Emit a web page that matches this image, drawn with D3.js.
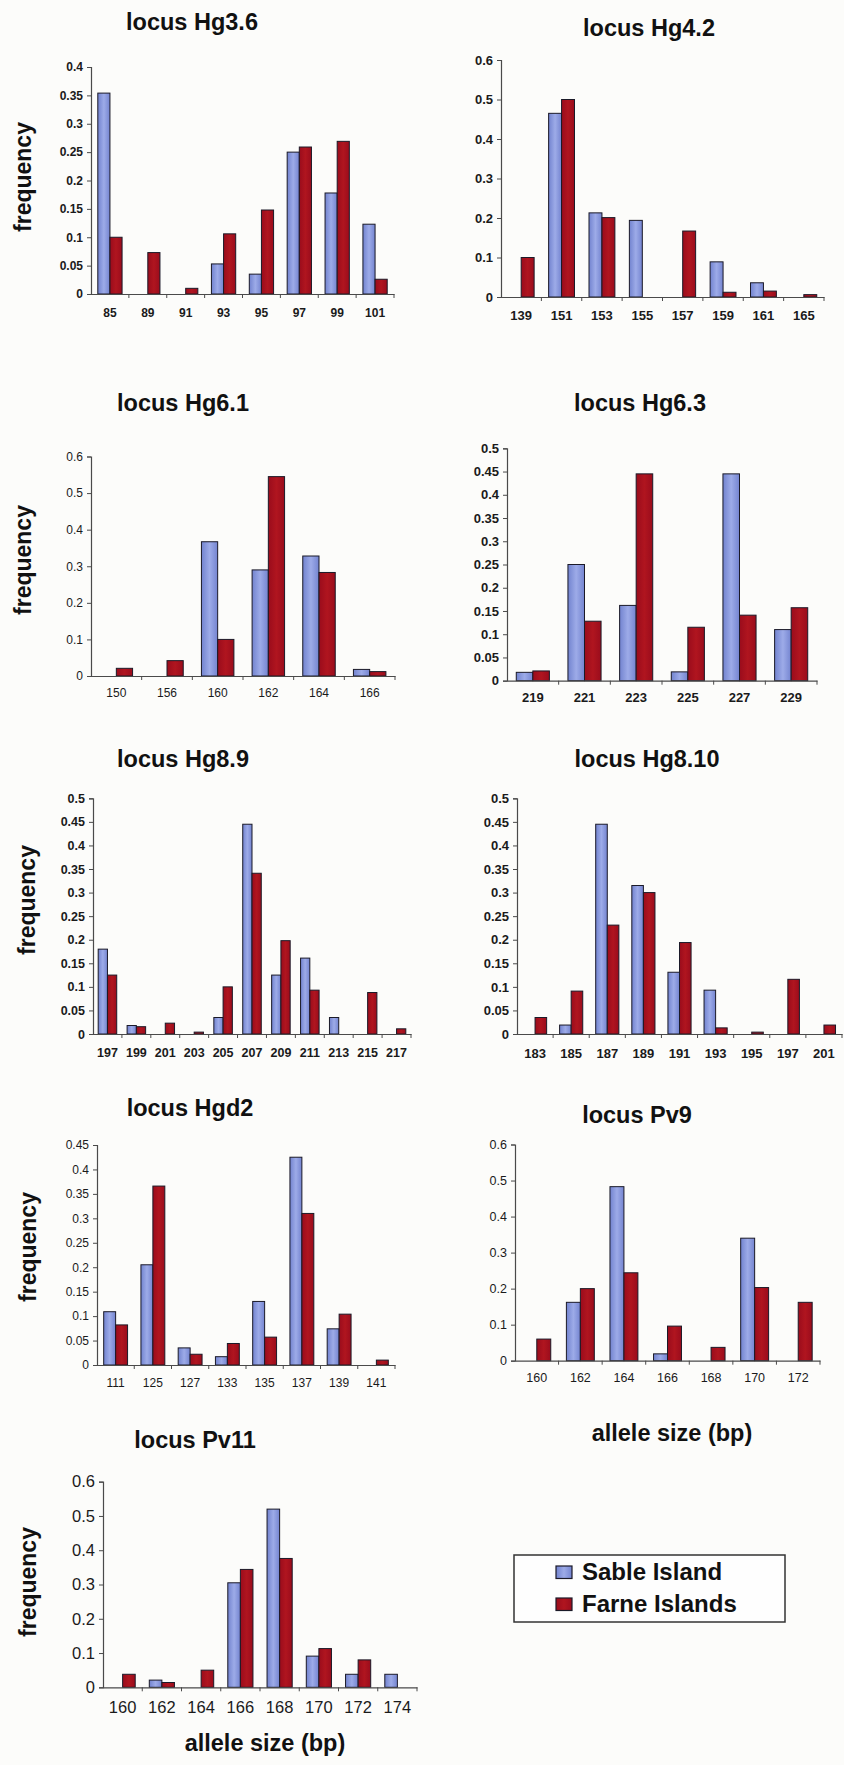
<!DOCTYPE html>
<html>
<head>
<meta charset="utf-8">
<script src="https://cdn.jsdelivr.net/npm/d3@7"></script>
<style>
  html, body { margin: 0; padding: 0; background: #fcfcfa; }
  svg { display: block; font-family: "Liberation Sans", Arial, Helvetica, sans-serif; }
</style>
</head>
<body>
<svg id="fig" width="844" height="1765"></svg>
<script>
// Allele frequencies per microsatellite locus, Sable Island vs Farne Islands
const hg36Alleles = ["85", "89", "91", "93", "95", "97", "99", "101"];
const hg36Sable   = [0.354, 0, 0, 0.053, 0.035, 0.25, 0.178, 0.123];
const hg36Farne   = [0.1, 0.073, 0.01, 0.106, 0.148, 0.259, 0.269, 0.026];
const hg36Ticks   = [0, 0.05, 0.1, 0.15, 0.2, 0.25, 0.3, 0.35, 0.4];

const hg42Alleles = ["139", "151", "153", "155", "157", "159", "161", "165"];
const hg42Sable   = [0, 0.465, 0.213, 0.194, 0, 0.089, 0.036, 0];
const hg42Farne   = [0.1, 0.5, 0.201, 0, 0.167, 0.012, 0.015, 0.006];
const hg42Ticks   = [0, 0.1, 0.2, 0.3, 0.4, 0.5, 0.6];

const hg61Alleles = ["150", "156", "160", "162", "164", "166"];
const hg61Sable   = [0, 0, 0.367, 0.29, 0.328, 0.018];
const hg61Farne   = [0.021, 0.042, 0.1, 0.545, 0.283, 0.012];
const hg61Ticks   = [0, 0.1, 0.2, 0.3, 0.4, 0.5, 0.6];

const hg63Alleles = ["219", "221", "223", "225", "227", "229"];
const hg63Sable   = [0.018, 0.25, 0.162, 0.019, 0.445, 0.11];
const hg63Farne   = [0.021, 0.128, 0.445, 0.115, 0.141, 0.157];
const hg63Ticks   = [0, 0.05, 0.1, 0.15, 0.2, 0.25, 0.3, 0.35, 0.4, 0.45, 0.5];

const hg89Alleles = ["197", "199", "201", "203", "205", "207", "209", "211", "213", "215", "217"];
const hg89Sable   = [0.18, 0.018, 0, 0, 0.035, 0.445, 0.125, 0.161, 0.035, 0, 0];
const hg89Farne   = [0.125, 0.0155, 0.023, 0.004, 0.1, 0.341, 0.198, 0.093, 0, 0.088, 0.011];
const hg89Ticks   = [0, 0.05, 0.1, 0.15, 0.2, 0.25, 0.3, 0.35, 0.4, 0.45, 0.5];

const hg810Alleles = ["183", "185", "187", "189", "191", "193", "195", "197", "201"];
const hg810Sable   = [0, 0.019, 0.445, 0.315, 0.131, 0.093, 0, 0, 0];
const hg810Farne   = [0.035, 0.091, 0.231, 0.3, 0.194, 0.013, 0.004, 0.116, 0.019];
const hg810Ticks   = [0, 0.05, 0.1, 0.15, 0.2, 0.25, 0.3, 0.35, 0.4, 0.45, 0.5];

const hgd2Alleles = ["111", "125", "127", "133", "135", "137", "139", "141"];
const hgd2Sable   = [0.109, 0.205, 0.035, 0.017, 0.13, 0.425, 0.074, 0];
const hgd2Farne   = [0.082, 0.366, 0.022, 0.044, 0.057, 0.31, 0.104, 0.01];
const hgd2Ticks   = [0, 0.05, 0.1, 0.15, 0.2, 0.25, 0.3, 0.35, 0.4, 0.45];

const pv9Alleles = ["160", "162", "164", "166", "168", "170", "172"];
const pv9Sable   = [0, 0.162, 0.483, 0.019, 0, 0.34, 0];
const pv9Farne   = [0.06, 0.2, 0.244, 0.096, 0.037, 0.203, 0.162];
const pv9Ticks   = [0, 0.1, 0.2, 0.3, 0.4, 0.5, 0.6];

const pv11Alleles = ["160", "162", "164", "166", "168", "170", "172", "174"];
const pv11Sable   = [0, 0.021, 0, 0.305, 0.52, 0.091, 0.038, 0.038];
const pv11Farne   = [0.038, 0.014, 0.05, 0.344, 0.376, 0.113, 0.08, 0];
const pv11Ticks   = [0, 0.1, 0.2, 0.3, 0.4, 0.5, 0.6];

const seriesNames = ["Sable Island", "Farne Islands"];

// Panel layout: plot box in page pixels, title placement and text styling
const panels = [
  { title: "locus Hg3.6", alleles: hg36Alleles, sable: hg36Sable, farne: hg36Farne, ticks: hg36Ticks,
    left: 91, right: 394, top: 67, bottom: 294, titleX: 192, titleY: 30,
    tickSize: 12, tickWeight: "bold", labelOff: 19, freqX: 31, freqY: 177 },
  { title: "locus Hg4.2", alleles: hg42Alleles, sable: hg42Sable, farne: hg42Farne, ticks: hg42Ticks,
    left: 501, right: 824, top: 60, bottom: 297, titleX: 649, titleY: 36,
    tickSize: 13, tickWeight: "bold", labelOff: 18 },
  { title: "locus Hg6.1", alleles: hg61Alleles, sable: hg61Sable, farne: hg61Farne, ticks: hg61Ticks,
    left: 91, right: 395, top: 456.5, bottom: 676, titleX: 183, titleY: 411,
    tickSize: 12, tickWeight: "normal", labelOff: 17, freqX: 31, freqY: 560 },
  { title: "locus Hg6.3", alleles: hg63Alleles, sable: hg63Sable, farne: hg63Farne, ticks: hg63Ticks,
    left: 507, right: 817, top: 448.3, bottom: 680.7, titleX: 640, titleY: 411,
    tickSize: 13, tickWeight: "bold", labelOff: 17 },
  { title: "locus Hg8.9", alleles: hg89Alleles, sable: hg89Sable, farne: hg89Farne, ticks: hg89Ticks,
    left: 93, right: 411, top: 798.3, bottom: 1034, titleX: 183, titleY: 767,
    tickSize: 12.5, tickWeight: "bold", labelOff: 19, freqX: 35, freqY: 900 },
  { title: "locus Hg8.10", alleles: hg810Alleles, sable: hg810Sable, farne: hg810Farne, ticks: hg810Ticks,
    left: 517, right: 842, top: 798.3, bottom: 1034, titleX: 647, titleY: 767,
    tickSize: 13, tickWeight: "bold", labelOff: 19 },
  { title: "locus Hgd2", alleles: hgd2Alleles, sable: hgd2Sable, farne: hgd2Farne, ticks: hgd2Ticks,
    left: 97, right: 395, top: 1145, bottom: 1365, titleX: 190, titleY: 1116,
    tickSize: 12, tickWeight: "normal", labelOff: 18, freqX: 36, freqY: 1247 },
  { title: "locus Pv9", alleles: pv9Alleles, sable: pv9Sable, farne: pv9Farne, ticks: pv9Ticks,
    left: 515, right: 820, top: 1144.5, bottom: 1360.7, titleX: 637, titleY: 1123,
    tickSize: 12.5, tickWeight: "normal", labelOff: 17,
    xTitleX: 672, xTitleY: 1441 },
  { title: "locus Pv11", alleles: pv11Alleles, sable: pv11Sable, farne: pv11Farne, ticks: pv11Ticks,
    left: 103, right: 417, top: 1481.7, bottom: 1687.3, titleX: 195, titleY: 1448,
    tickSize: 16.5, tickWeight: "normal", labelOff: 20, freqX: 36, freqY: 1582,
    xTitleX: 265, xTitleY: 1751 }
];

const svg = d3.select("#fig");
const ink = "#111";
const axisInk = "#4a4a4a";
const sableFill = "url(#sableGrad)";
const farneFill = "url(#farneGrad)";

// Slight horizontal shading on the bars
const defs = svg.append("defs");
const sg = defs.append("linearGradient").attr("id", "sableGrad").attr("x1", 0).attr("x2", 1).attr("y1", 0).attr("y2", 0);
sg.append("stop").attr("offset", "0%").attr("stop-color", "#7283cf");
sg.append("stop").attr("offset", "50%").attr("stop-color", "#9dabe8");
sg.append("stop").attr("offset", "100%").attr("stop-color", "#7484d0");
const fg = defs.append("linearGradient").attr("id", "farneGrad").attr("x1", 0).attr("x2", 1).attr("y1", 0).attr("y2", 0);
fg.append("stop").attr("offset", "0%").attr("stop-color", "#9a0c1c");
fg.append("stop").attr("offset", "50%").attr("stop-color", "#b0151f");
fg.append("stop").attr("offset", "100%").attr("stop-color", "#9a0c1c");

svg.append("rect").attr("width", 844).attr("height", 1765).attr("fill", "#fcfcfa");

const fmt = d => String(+d.toFixed(2));

panels.forEach(p => {
  const g = svg.append("g");
  const yMax = p.ticks[p.ticks.length - 1];

  const x = d3.scaleBand().domain(p.alleles).range([p.left, p.right]);
  const inner = d3.scaleBand().domain(seriesNames).range([0, x.bandwidth()]).paddingOuter(0.56);
  const y = d3.scaleLinear().domain([0, yMax]).range([p.bottom, p.top]);

  // title
  g.append("text")
    .attr("x", p.titleX).attr("y", p.titleY)
    .attr("text-anchor", "middle")
    .attr("font-size", 23.5).attr("font-weight", "bold").attr("fill", ink)
    .text(p.title);

  // bars
  const rows = p.alleles.map((a, i) => ({ allele: a, values: [p.sable[i], p.farne[i]] }));
  const grp = g.selectAll("g.allele").data(rows).join("g")
    .attr("transform", d => `translate(${x(d.allele)},0)`);
  grp.selectAll("rect")
    .data(d => d.values.map((v, k) => ({ name: seriesNames[k], value: v })).filter(d => d.value > 0))
    .join("rect")
    .attr("x", d => inner(d.name))
    .attr("width", inner.bandwidth())
    .attr("y", d => y(d.value))
    .attr("height", d => y(0) - y(d.value))
    .attr("fill", d => d.name === seriesNames[0] ? sableFill : farneFill)
    .attr("stroke", "#1b1a28").attr("stroke-width", 1);

  // y axis
  const ya = g.append("g")
    .attr("transform", `translate(${p.left},0)`)
    .call(d3.axisLeft(y).tickValues(p.ticks).tickFormat(fmt).tickSize(4).tickPadding(4));
  ya.select(".domain").attr("stroke", axisInk).attr("stroke-width", 1.2);
  ya.selectAll(".tick line").attr("stroke", axisInk);
  ya.selectAll("text")
    .attr("font-size", p.tickSize).attr("font-weight", p.tickWeight)
    .attr("font-family", "Liberation Sans, Arial, sans-serif").attr("fill", "#1a1a1a");

  // x axis: category labels centred in bands, tick marks on band edges
  const xa = g.append("g")
    .attr("transform", `translate(0,${p.bottom})`)
    .call(d3.axisBottom(x).tickSize(0).tickSizeOuter(0));
  xa.select(".domain").attr("stroke", axisInk).attr("stroke-width", 1.2);
  xa.selectAll("text")
    .attr("y", p.labelOff).attr("dy", "0.35em")
    .attr("font-size", p.tickSize).attr("font-weight", p.tickWeight)
    .attr("font-family", "Liberation Sans, Arial, sans-serif").attr("fill", "#1a1a1a");
  const edges = p.alleles.map(a => x(a)).slice(1).concat([x.range()[1]]);
  xa.selectAll("line.edge").data(edges).join("line")
    .attr("class", "edge")
    .attr("x1", d => d).attr("x2", d => d)
    .attr("y1", 0).attr("y2", 4)
    .attr("stroke", axisInk);

  if (p.freqX !== undefined) {
    g.append("text")
      .attr("transform", `translate(${p.freqX},${p.freqY}) rotate(-90)`)
      .attr("text-anchor", "middle")
      .attr("font-size", 23).attr("font-weight", "bold").attr("fill", ink)
      .text("frequency");
  }
  if (p.xTitleX !== undefined) {
    g.append("text")
      .attr("x", p.xTitleX).attr("y", p.xTitleY)
      .attr("text-anchor", "middle")
      .attr("font-size", 23.5).attr("font-weight", "bold").attr("fill", ink)
      .text("allele size (bp)");
  }
});

// legend
const legend = svg.append("g");
legend.append("rect")
  .attr("x", 514).attr("y", 1555).attr("width", 271).attr("height", 67)
  .attr("fill", "#fefefe").attr("stroke", "#333").attr("stroke-width", 1.5);
const legendRows = legend.selectAll("g.item").data(seriesNames).join("g")
  .attr("class", "item")
  .attr("transform", (d, i) => `translate(556,${1566 + i * 32})`);
legendRows.append("rect")
  .attr("width", 16).attr("height", 12.5)
  .attr("fill", (d, i) => i === 0 ? sableFill : farneFill)
  .attr("stroke", "#1b1a28").attr("stroke-width", 1.2);
legendRows.append("text")
  .attr("x", 26).attr("y", 13.5)
  .attr("font-size", 24).attr("font-weight", "bold").attr("fill", ink)
  .text(d => d);
</script>
</body>
</html>
